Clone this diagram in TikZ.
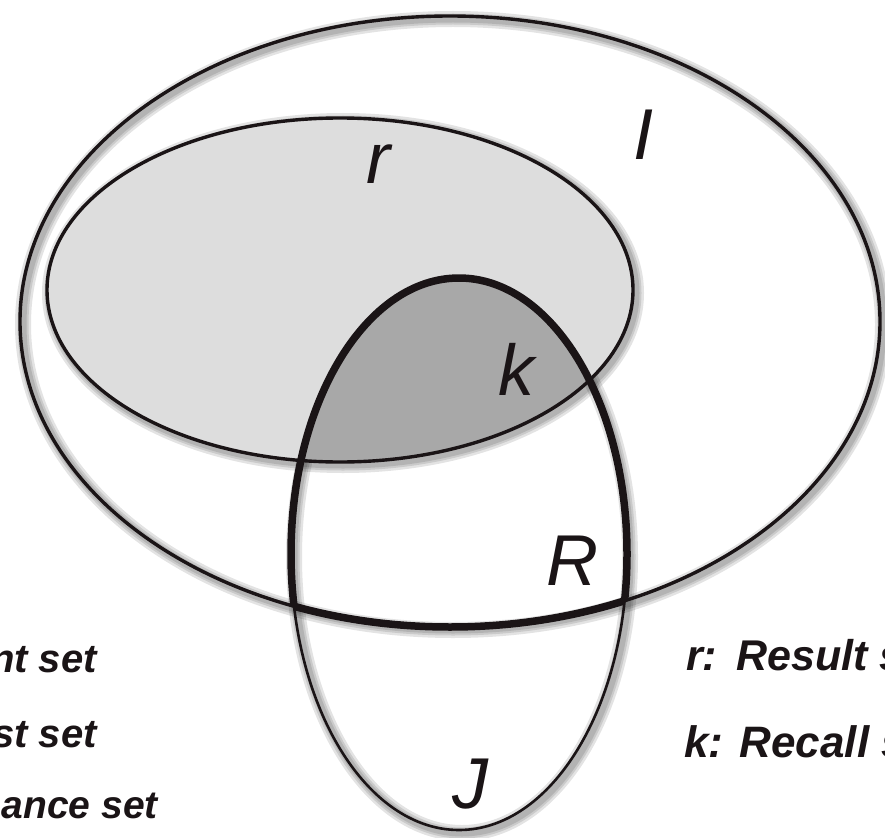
\documentclass[tikz,border=0pt]{standalone}
\usepackage{fontspec}
\setmainfont{Liberation Sans}

\definecolor{resultgray}{HTML}{DDDDDD}
\definecolor{recallgray}{HTML}{A8A8A8}
\definecolor{inkblack}{HTML}{1A1416}

\begin{document}
\begin{tikzpicture}[
  x=1pt, y=-1pt,
  setline/.style={draw=inkblack, line width=3.4pt},
  thinline/.style={draw=inkblack, line width=2.6pt},
  thickline/.style={draw=inkblack, line width=7.5pt},
  glow/.style={draw=black, opacity=0.11, line width=#1},
  letter/.style={font=\fontsize{72}{72}\selectfont\itshape, text=inkblack, inner sep=0pt},
  legend/.style={font=\fontsize{40}{40}\selectfont\bfseries\itshape, text=inkblack, inner sep=0pt}
]
  \clip (0,0) rectangle (885,837);
  \useasboundingbox (0,0) rectangle (885,837);
  \fill[white] (0,0) rectangle (885,837);

  % soft shadows round the outlines
  \foreach \w in {16,11,7}{
    \draw[glow=\w pt, shift={(3,3)}] (450,321.5) ellipse [x radius=430, y radius=305.5];
    \draw[glow=\w pt, shift={(3,3)}] (340,290) ellipse [x radius=293, y radius=172];
    \draw[glow=\w pt, shift={(3,3)}] (459,554) ellipse [x radius=168, y radius=276];
  }

  % result set and recall set
  \fill[resultgray] (340,290) ellipse [x radius=293, y radius=172];
  \begin{scope}
    \clip (340,290) ellipse [x radius=293, y radius=172];
    \fill[recallgray] (459,554) ellipse [x radius=168, y radius=276];
  \end{scope}

  % outlines
  \draw[setline] (450,321.5) ellipse [x radius=430, y radius=305.5];
  \draw[setline] (340,290) ellipse [x radius=293, y radius=172];
  \draw[thinline] (459,554) ellipse [x radius=168, y radius=276];
  \begin{scope}
    \clip (450,321.5) ellipse [x radius=430, y radius=305.5];
    \draw[thickline] (459,554) ellipse [x radius=168, y radius=276];
  \end{scope}
  \begin{scope}
    \clip (459,554) ellipse [x radius=168, y radius=276];
    \draw[thickline] (450,321.5) ellipse [x radius=430, y radius=305.5];
  \end{scope}

  % set letters
  \node[letter, anchor=base west] (rlet) at (366,183) {r};
  \node[letter, anchor=base west] (ilet) at (633,160) {I};
  \node[letter, anchor=base west] (klet) at (498,395) {k};
  \node[letter, anchor=base west] (Rlet) at (546,585) {R};
  \node[letter, anchor=base west] (jlet) at (452,808) {J};

  % legend, cut by the page edge
  \node[legend, anchor=base east] (idesc) at (97,672) {nt set};
  \node[legend, anchor=base east] (jdesc) at (97,747) {st set};
  \node[legend, font=\fontsize{39}{39}\selectfont\bfseries\itshape, anchor=base east] (Rdesc) at (158,818) {ance set};
  \node[legend, font=\fontsize{43}{43}\selectfont\bfseries\itshape, anchor=base west] (rdesc) at (686,670) {r:\hspace{3pt} Result s};
  \node[legend, font=\fontsize{44}{44}\selectfont\bfseries\itshape, anchor=base west] (kdesc) at (684,757) {k: Recall s};
\end{tikzpicture}
\end{document}
